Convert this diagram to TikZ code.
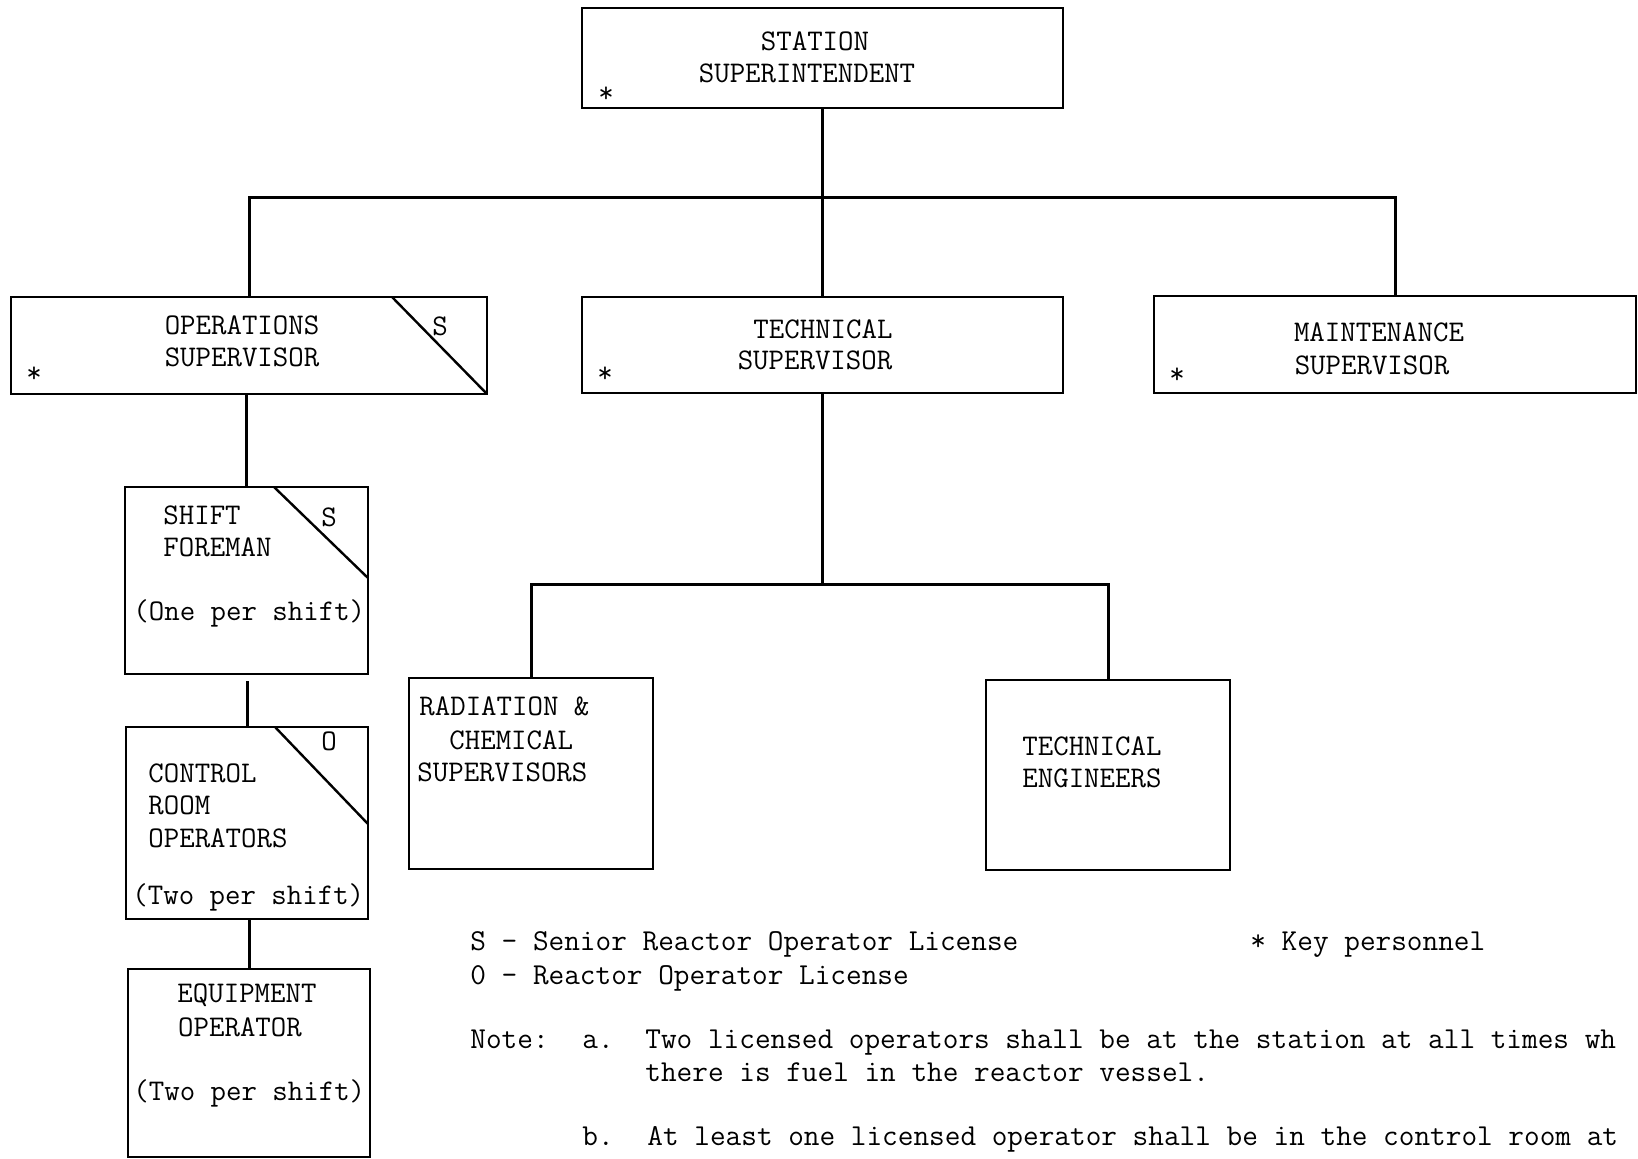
\documentclass[tikz,border=0pt]{standalone}
\usepackage{fontspec}
\setmonofont{Latin Modern Mono}
\usetikzlibrary{calc}
\tikzset{
  box/.style={draw, line width=1.2pt, rectangle, inner sep=0pt, outer sep=0pt},
  conn/.style={line width=1.5pt},
  diag/.style={line width=1.2pt},
  txt/.style={font=\ttfamily\fontsize{15pt}{18pt}\selectfont, inner sep=0pt, anchor=base},
  txtw/.style={txt, anchor=base west},
  notetxt/.style={font=\ttfamily\fontsize{15.2pt}{18pt}\selectfont, inner sep=0pt, anchor=base west},
}
\begin{document}
\begin{tikzpicture}[x=0.5pt,y=-0.5pt]
\useasboundingbox (0,0) rectangle (1638,1159);
% boxes
\node[box, minimum width=240.5pt, minimum height=50pt] (station) at (822.5,58) {};
\node[box, minimum width=238pt, minimum height=48.5pt] (ops) at (249,345.5) {};
\node[box, minimum width=240.5pt, minimum height=48pt] (tech) at (822.5,345) {};
\node[box, minimum width=241pt, minimum height=48.5pt] (maint) at (1395,344.5) {};
\node[box, minimum width=121.5pt, minimum height=93.5pt] (shift) at (246.5,580.5) {};
\node[box, minimum width=121pt, minimum height=96pt] (ctrl) at (247,823) {};
\node[box, minimum width=121pt, minimum height=94pt] (equip) at (249,1063) {};
\node[box, minimum width=122pt, minimum height=95.5pt] (rad) at (531,773.5) {};
\node[box, minimum width=122pt, minimum height=95pt] (eng) at (1108,775) {};

% connectors
\coordinate (bar) at (0,198);
\coordinate (bartwo) at (0,585);
\draw[conn] (station.south) -- (tech.north);
\draw[conn] (ops.north) -- (ops.north |- bar) -| (maint.north);
\draw[conn] (tech.south) -- (tech.south |- bartwo);
\draw[conn] (rad.north) -- (rad.north |- bartwo) -| (eng.north);
\draw[conn] (shift.north) -- (shift.north |- ops.south);
\draw[conn, shorten >=3.5pt] (ctrl.north) -- (ctrl.north |- shift.south);
\draw[conn] (equip.north) -- (equip.north |- ctrl.south);

% diagonal licence corners
\draw[diag] ($(ops.north east)+(-95,0)$) -- (ops.south east);
\draw[diag] ($(shift.north east)+(-94,0)$) -- ($(shift.north east)+(0,91)$);
\draw[diag] ($(ctrl.north east)+(-93,0)$) -- ($(ctrl.north east)+(0,97)$);

% texts
\node[txt] (st1) at (815,51) {STATION};
\node[txt] (st2) at (807,83) {SUPERINTENDENT};
\node[txt] (stk) at (606,103) {*};

\node[txt] (op1) at (242,335) {OPERATIONS};
\node[txt] (op2) at (242,367) {SUPERVISOR};
\node[txt] (opk) at (34,383) {*};
\node[txt] (ops) at (440,336) {S};

\node[txt] (te1) at (823,339) {TECHNICAL};
\node[txt] (te2) at (815,370) {SUPERVISOR};
\node[txt] (tek) at (605,383) {*};

\node[txt] (ma1) at (1379,342) {MAINTENANCE};
\node[txt] (ma2) at (1372,375) {SUPERVISOR};
\node[txt] (mak) at (1177,384) {*};

\node[txtw] (sf1) at (163,525) {SHIFT};
\node[txtw] (sf2) at (163,557) {FOREMAN};
\node[txtw] (sf3) at (133,621) {(One per shift)};
\node[txt] (sfs) at (329,527) {S};

\node[txtw] (cr1) at (148,783) {CONTROL};
\node[txtw] (cr2) at (148,814) {ROOM};
\node[txtw] (cr3) at (148,847) {OPERATORS};
\node[txtw] (cr4) at (132,904) {(Two per shift)};
\node[txt] (cro) at (329,751) {O};

\node[txt] (eq1) at (247,1002) {EQUIPMENT};
\node[txt] (eq2) at (240,1036) {OPERATOR};
\node[txtw] (eq3) at (133,1100) {(Two per shift)};

\node[txtw] (ra1) at (419,716) {RADIATION \&};
\node[txtw] (ra2) at (449,749) {CHEMICAL};
\node[txtw] (ra3) at (417,781) {SUPERVISORS};

\node[txtw] (en1) at (1022,755) {TECHNICAL};
\node[txtw] (en2) at (1022,787) {ENGINEERS};

% legend and notes
\node[notetxt] (lg1) at (470,950) {S - Senior Reactor Operator License};
\node[notetxt] (lg2) at (470,984) {0 - Reactor Operator License};
\node[notetxt] (lg3) at (1250,950) {* Key personnel};
\node[notetxt] (nt0) at (470,1048) {Note:};
\node[notetxt] (nta) at (582,1048) {a.};
\node[notetxt] (nta1) at (645,1048) {Two licensed operators shall be at the station at all times wh};
\node[notetxt] (nta2) at (645,1081) {there is fuel in the reactor vessel.};
\node[notetxt] (ntb) at (582,1145) {b.};
\node[notetxt] (ntb1) at (647,1145) {At least one licensed operator shall be in the control room at};
\end{tikzpicture}
\end{document}
